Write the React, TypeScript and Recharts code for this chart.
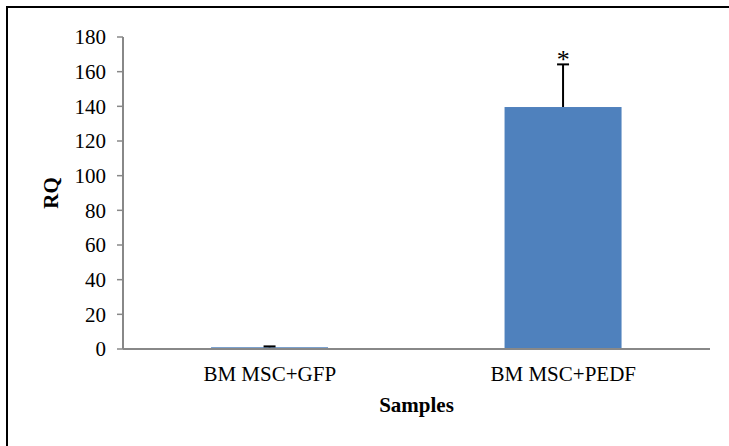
import { BarChart, Bar, XAxis, YAxis, ReferenceDot, Label } from 'recharts'

const samples = ['BM MSC+GFP', 'BM MSC+PEDF']
const rq = [1, 139.6]
const rqError = [0.5, 24.6]
const yTicks = [0, 20, 40, 60, 80, 100, 120, 140, 160, 180]
const significant = ['BM MSC+PEDF']

const data = samples.map((name, i) => ({ name, rq: rq[i], err: rqError[i] }))

const axisGray = '#888888'

// bar + upper-only error whisker, sized from the bar's own scaled height
function BarWithError(props: any) {
  const { x, y, width, height, payload, fill } = props
  const pxPerUnit = payload.rq ? height / payload.rq : 0
  const top = y - payload.err * pxPerUnit
  const cx = x + width / 2
  return (
    <g>
      <rect x={x} y={y} width={width} height={height} fill={fill} />
      <line x1={cx} y1={y} x2={cx} y2={top} stroke="#000" strokeWidth={2} />
      <line x1={cx - 6} y1={top} x2={cx + 6} y2={top} stroke="#000" strokeWidth={2} />
    </g>
  )
}

export default function App() {
  return (
    <div style={{ position: 'absolute', left: 0, top: 0, width: 729, height: 446, overflow: 'hidden', background: '#fff' }}>
      <style>{`svg text, svg tspan { font-family: 'Liberation Serif', serif !important; }`}</style>
      <div
        style={{
          position: 'absolute',
          left: 6,
          top: 6,
          width: 740,
          height: 460,
          border: '2px solid #000',
        }}
      />
      <BarChart
        width={729}
        height={446}
        data={data}
        margin={{ top: 37, right: 19, bottom: 30, left: 63 }}
        barCategoryGap="30%"
        style={{ position: 'absolute', left: 0, top: 0 }}
      >
        <XAxis
          dataKey="name"
          axisLine={{ stroke: axisGray, strokeWidth: 2 }}
          tickLine={false}
          tick={{ fill: '#000', fontSize: 21 }}
          tickMargin={11}
          height={67}
        >
          <Label
            value="Samples"
            position="insideBottom"
            offset={4}
            fontSize={21}
            fontWeight="bold"
            fill="#000"
          />
        </XAxis>
        <YAxis
          domain={[0, 180]}
          ticks={yTicks}
          interval={0}
          width={60}
          axisLine={{ stroke: axisGray, strokeWidth: 2 }}
          tickLine={{ stroke: axisGray, strokeWidth: 1.5 }}
          tickSize={6}
          tickMargin={11}
          tick={{ fill: '#000', fontSize: 21 }}
        >
          <Label
            value="RQ"
            angle={-90}
            position="insideLeft"
            offset={-12}
            fontSize={21}
            fontWeight="bold"
            fill="#000"
            textAnchor="middle"
          />
        </YAxis>
        <Bar dataKey="rq" fill="#4F81BD" isAnimationActive={false} shape={BarWithError} />
        {significant.map((name) => {
          const i = samples.indexOf(name)
          return (
            <ReferenceDot
              key={name}
              x={name}
              y={rq[i] + rqError[i]}
              r={0}
              stroke="none"
              label={{ value: '*', position: 'top', offset: -4, fill: '#000', fontSize: 26 }}
            />
          )
        })}
      </BarChart>
    </div>
  )
}
